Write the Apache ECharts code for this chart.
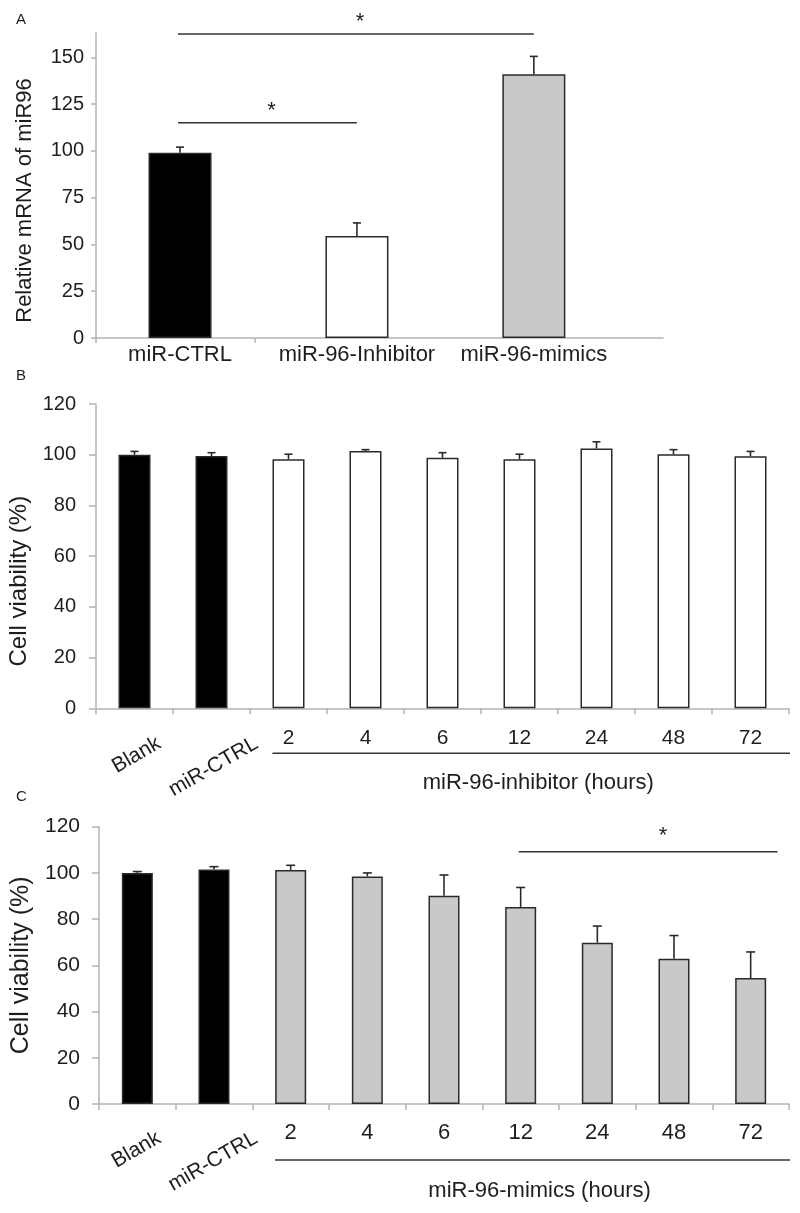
<!DOCTYPE html>
<html><head><meta charset="utf-8">
<script src="https://cdn.jsdelivr.net/npm/echarts@6/dist/echarts.min.js"></script>
<style>html,body{margin:0;padding:0;background:#fff}#c{width:800px;height:1213px}</style>
</head><body><div id="c"></div>
<script>
// ---------- data ----------
const catA = ['miR-CTRL', 'miR-96-Inhibitor', 'miR-96-mimics'];
const valA = [99, 54.5, 141];
const errA = [3, 7, 9.5];
const ticksA = [0, 25, 50, 75, 100, 125, 150];

const catB = ['Blank', 'miR-CTRL', '2', '4', '6', '12', '24', '48', '72'];
const valB = [100, 99.5, 98.2, 101.5, 98.8, 98.2, 102.5, 100.2, 99.4];
const errB = [1.3, 1.3, 2, 0.5, 2, 2, 2.6, 1.8, 1.9];

const catC = ['Blank', 'miR-CTRL', '2', '4', '6', '12', '24', '48', '72'];
const valC = [100, 101.5, 101.3, 98.5, 90.1, 85.2, 69.8, 62.9, 54.5];
const errC = [0.6, 1.2, 2, 1.5, 9, 8.5, 7.2, 10, 11.3];

const groupB = 'miR-96-inhibitor (hours)';
const groupC = 'miR-96-mimics (hours)';
const yTitleA = 'Relative mRNA of miR96';
const yTitleB = 'Cell viability (%)';
const yTitleC = 'Cell viability (%)';
// significance brackets: [fromIndex, toIndex, yValue]
const sigA = [[0, 2, 162.5], [0, 1, 115]];
const sigC = [[5, 8, 109.2]];
const star = '*';

// ---------- styles ----------
const FONT = '"Liberation Sans", Arial, sans-serif';
const TXT = '#1e1e1e';
const AX = '#b4b4b4';
const EDGE = '#2a2a2a';
const colA = ['#000000', '#ffffff', '#c9c9c9'];
const colB = ['#000000', '#000000', '#ffffff', '#ffffff', '#ffffff', '#ffffff', '#ffffff', '#ffffff', '#ffffff'];
const colC = ['#000000', '#000000', '#c9c9c9', '#c9c9c9', '#c9c9c9', '#c9c9c9', '#c9c9c9', '#c9c9c9', '#c9c9c9'];

const mctx = document.createElement('canvas').getContext('2d');
function textW(t, size) { mctx.font = size + 'px ' + FONT; return mctx.measureText(t).width; }

function errRender(cap) {
  return function (params, api) {
    const x = api.value(0), v = api.value(1), e = api.value(2);
    const b = api.coord([x, v]), t = api.coord([x, v + e]);
    const st = { stroke: EDGE, lineWidth: 1.6 };
    return { type: 'group', children: [
      { type: 'line', shape: { x1: b[0], y1: b[1], x2: t[0], y2: t[1] }, style: st },
      { type: 'line', shape: { x1: t[0] - cap / 2, y1: t[1], x2: t[0] + cap / 2, y2: t[1] }, style: st }
    ] };
  };
}

function sigRender(endExtra, starDx, starDy) {
  return function (params, api) {
    const a = api.value(0), b = api.value(1), y = api.value(2);
    const bw = api.size ? (api.size([1, 0])[0] || 0) : 0;
    const p1 = api.coord([a, y]), p2 = api.coord([b, y]);
    const x2 = p2[0] + endExtra * bw;
    const mid = (p1[0] + x2) / 2;
    return { type: 'group', children: [
      { type: 'line', shape: { x1: p1[0] - 2, y1: p1[1], x2: x2, y2: p1[1] }, style: { stroke: '#333', lineWidth: 1.5 } },
      { type: 'text', x: mid + starDx, y: p1[1] - starDy,
        style: { text: star, font: '22px ' + FONT, fill: TXT, align: 'center', verticalAlign: 'middle', textAlign: 'center', textVerticalAlign: 'middle' } }
    ] };
  };
}

function decorRender(cats, group, barW, cfg) {
  return function (params, api) {
    const cs = params.coordSys;
    const ch = [];
    const fs = 21;
    for (let i = 0; i < 2; i++) {
      const p = api.coord([i, 0]);
      const w = textW(cats[i], fs);
      const bh = w * 0.5 + fs * 0.95 * 0.866;
      ch.push({ type: 'text', x: p[0] + cfg.rdx, y: p[1] + cfg.rTop + bh / 2, rotation: Math.PI / 6,
        style: { text: cats[i], font: fs + 'px ' + FONT, fill: TXT, align: 'center', verticalAlign: 'middle', textAlign: 'center', textVerticalAlign: 'middle' } });
    }
    const p2 = api.coord([2, 0]);
    const x1 = p2[0] - barW / 2, x2 = cs.x + cs.width + 1;
    const yl = p2[1] + cfg.lineDy;
    ch.push({ type: 'line', shape: { x1: x1, y1: yl, x2: x2, y2: yl }, style: { stroke: '#333', lineWidth: 1.6 } });
    ch.push({ type: 'text', x: (x1 + x2) / 2 + cfg.gdx, y: p2[1] + cfg.groupDy,
      style: { text: group, font: '22px ' + FONT, fill: TXT, align: 'center', verticalAlign: 'middle', textAlign: 'center', textVerticalAlign: 'middle' } });
    return { type: 'group', children: ch };
  };
}

const lab = (size, extra) => Object.assign({ color: TXT, fontSize: size, fontFamily: FONT }, extra || {});
const axLine = { show: true, onZero: false, lineStyle: { color: AX, width: 1.5 } };
const axTick = (len, extra) => Object.assign({ show: true, length: len, lineStyle: { color: AX, width: 1.5 } }, extra || {});
const panelTitle = (t, top) => ({ text: t, left: 16, top: top, padding: 0, textStyle: { fontSize: 15, fontWeight: 'normal', color: TXT, fontFamily: FONT } });

const chart = echarts.init(document.getElementById('c'));
const option = {
  animation: false,
  backgroundColor: '#fff',
  title: [panelTitle('A', 12), panelTitle('B', 368), panelTitle('C', 789)],
  grid: [
    { left: 96, top: 33, width: 567, height: 305, outerBoundsMode: 'none', containLabel: false },
    { left: 96, top: 404, width: 693, height: 304.3, outerBoundsMode: 'none', containLabel: false },
    { left: 99, top: 826.7, width: 690, height: 277.3, outerBoundsMode: 'none', containLabel: false }
  ],
  xAxis: [
    { gridIndex: 0, type: 'value', min: -0.475, max: 2.73, splitLine: { show: false },
      axisLine: axLine, axisTick: axTick(5, { customValues: [-0.475, 0.424] }),
      axisLabel: lab(22, { customValues: [0, 1, 2], margin: 6, formatter: v => catA[Math.round(v)] }) },
    { gridIndex: 1, type: 'category', data: catB, splitLine: { show: false },
      axisLine: axLine, axisTick: axTick(6),
      axisLabel: lab(21, { interval: 0, margin: 19, formatter: (v, i) => (i < 2 ? '' : v) }) },
    { gridIndex: 2, type: 'category', data: catC, splitLine: { show: false },
      axisLine: axLine, axisTick: axTick(6),
      axisLabel: lab(22, { interval: 0, margin: 18, formatter: (v, i) => (i < 2 ? '' : v) }) }
  ],
  yAxis: [
    { gridIndex: 0, type: 'value', min: 0, max: 163, splitLine: { show: false },
      axisLine: axLine, axisTick: axTick(5, { customValues: ticksA }),
      axisLabel: lab(20, { customValues: ticksA, margin: 12 }),
      name: yTitleA, nameLocation: 'middle', nameRotate: 90, nameGap: 60,
      nameTextStyle: lab(22, { padding: [0, 0, 0, -30] }) },
    { gridIndex: 1, type: 'value', min: 0, max: 120, interval: 20, splitLine: { show: false },
      axisLine: axLine, axisTick: axTick(7),
      axisLabel: lab(20, { margin: 20 }),
      name: yTitleB, nameLocation: 'middle', nameRotate: 90, nameGap: 56,
      nameTextStyle: lab(24, { padding: [0, 0, 0, -50] }) },
    { gridIndex: 2, type: 'value', min: 0, max: 120, interval: 20, splitLine: { show: false },
      axisLine: axLine, axisTick: axTick(7),
      axisLabel: lab(21, { margin: 19 }),
      name: yTitleC, nameLocation: 'middle', nameRotate: 90, nameGap: 58,
      nameTextStyle: lab(25) }
  ],
  series: [
    { type: 'bar', xAxisIndex: 0, yAxisIndex: 0, barWidth: 63,
      data: valA.map((v, i) => ({ value: [i, v], itemStyle: { color: colA[i] } })),
      itemStyle: { borderColor: EDGE, borderWidth: 1.5 } },
    { type: 'custom', xAxisIndex: 0, yAxisIndex: 0, z: 5,
      data: valA.map((v, i) => [i, v, errA[i]]), renderItem: errRender(8) },
    { type: 'custom', xAxisIndex: 0, yAxisIndex: 0, z: 5,
      data: sigA, renderItem: sigRender(0, 3, 12) },

    { type: 'bar', xAxisIndex: 1, yAxisIndex: 1, barWidth: 32,
      data: valB.map((v, i) => ({ value: v, itemStyle: { color: colB[i] } })),
      itemStyle: { borderColor: EDGE, borderWidth: 1.5 } },
    { type: 'custom', xAxisIndex: 1, yAxisIndex: 1, z: 5,
      data: valB.map((v, i) => [i, v, errB[i]]), renderItem: errRender(8) },
    { type: 'custom', xAxisIndex: 1, yAxisIndex: 1, z: 5,
      data: [[0, 0]], renderItem: decorRender(catB, groupB, 32, { rdx: 2, rTop: 25, lineDy: 45, groupDy: 75, gdx: 7 }) },

    { type: 'bar', xAxisIndex: 2, yAxisIndex: 2, barWidth: 31,
      data: valC.map((v, i) => ({ value: v, itemStyle: { color: colC[i] } })),
      itemStyle: { borderColor: EDGE, borderWidth: 1.5 } },
    { type: 'custom', xAxisIndex: 2, yAxisIndex: 2, z: 5,
      data: valC.map((v, i) => [i, v, errC[i]]), renderItem: errRender(9) },
    { type: 'custom', xAxisIndex: 2, yAxisIndex: 2, z: 5,
      data: sigC, renderItem: sigRender(0.35, 14, 16) },
    { type: 'custom', xAxisIndex: 2, yAxisIndex: 2, z: 5,
      data: [[0, 0]], renderItem: decorRender(catC, groupC, 31, { rdx: -1, rTop: 24, lineDy: 56, groupDy: 87, gdx: 7 }) }
  ]
};
chart.setOption(option);
</script>
</body></html>
